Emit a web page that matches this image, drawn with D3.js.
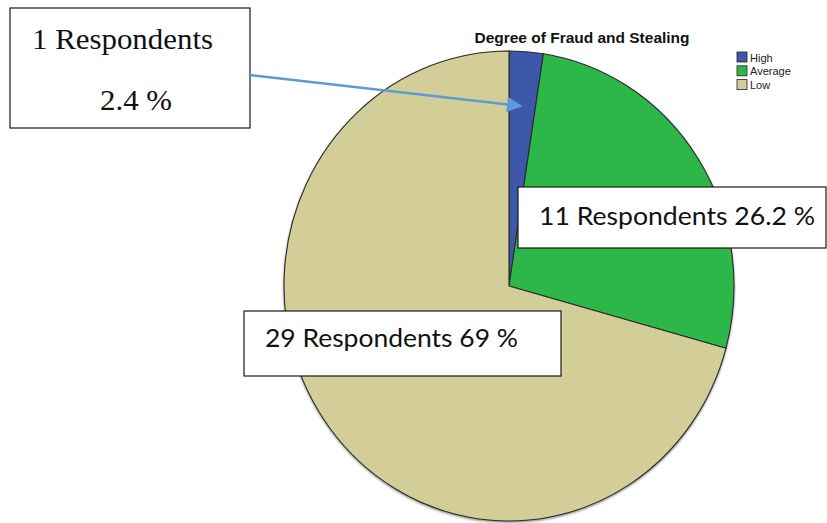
<!DOCTYPE html>
<html>
<head>
<meta charset="utf-8">
<script src="https://cdn.jsdelivr.net/npm/d3@7"></script>
<style>
  html, body { margin: 0; padding: 0; background: #fff; }
  svg { display: block; }
</style>
</head>
<body>
<svg id="chart" width="827" height="523"></svg>
<script>
// Survey answers: degree of fraud and stealing
const categories = ["High", "Average", "Low"];
const counts = [1, 11, 29];
const percentLabels = ["2.4", "26.2", "69"];
const chartTitle = "Degree of Fraud and Stealing";

const colors = ["#3C58A8", "#2DB74A", "#D3CD98"];

const W = 827, H = 523;
const svg = d3.select("#chart");

// Pie geometry (drawn slightly taller than wide)
const cx = 509, cy = 286, rx = 225, ry = 235;

const pie = d3.pie().sort(null).value(d => d.count);
const arcs = pie(categories.map((c, i) => ({ cat: c, count: counts[i], pct: percentLabels[i] })));
const arc = d3.arc().innerRadius(0).outerRadius(rx);

const defs = svg.append("defs");
const f = defs.append("filter").attr("id", "shadow").attr("x", "-10%").attr("y", "-10%").attr("width", "120%").attr("height", "120%");
f.append("feDropShadow").attr("dx", 0).attr("dy", 1.2).attr("stdDeviation", 0.8).attr("flood-color", "#000").attr("flood-opacity", 0.45);

const pieG = svg.append("g")
  .attr("transform", `translate(${cx},${cy}) scale(1,${ry / rx})`)
  .attr("filter", "url(#shadow)");

pieG.selectAll("path.slice")
  .data(arcs)
  .join("path")
  .attr("class", "slice")
  .attr("d", arc)
  .attr("fill", (d, i) => colors[i])
  .attr("stroke", "#2a2a2a")
  .attr("stroke-width", 1.1)
  .attr("stroke-linejoin", "round")
  .attr("vector-effect", "non-scaling-stroke");

// Title
svg.append("text")
  .attr("x", 582).attr("y", 43)
  .attr("text-anchor", "middle")
  .attr("font-family", "Liberation Sans, Arial, sans-serif")
  .attr("font-weight", "bold")
  .attr("font-size", 14)
  .attr("fill", "#111")
  .attr("textLength", 215)
  .attr("lengthAdjust", "spacingAndGlyphs")
  .text(chartTitle);

// Legend
const legend = svg.append("g").attr("transform", "translate(737,52)");
const li = legend.selectAll("g").data(categories).join("g")
  .attr("transform", (d, i) => `translate(0,${i * 13.8})`);
li.append("rect")
  .attr("width", 10).attr("height", 10)
  .attr("fill", (d, i) => colors[i])
  .attr("stroke", "#222").attr("stroke-width", 0.8);
li.append("text")
  .attr("x", 13).attr("y", 9.5)
  .attr("font-family", "Liberation Sans, Arial, sans-serif")
  .attr("font-size", 11)
  .attr("fill", "#222")
  .text(d => d);

// Annotation callouts
const boxStyle = sel => sel.attr("fill", "#fff").attr("stroke", "#1a1a1a").attr("stroke-width", 1.2);

// High: box with an arrow pointing into the slice
const hi = arcs[0];
svg.append("rect").attr("x", 10).attr("y", 8).attr("width", 240).attr("height", 120).call(boxStyle);
svg.append("text")
  .attr("x", 32).attr("y", 49)
  .attr("font-family", "Liberation Serif, Times New Roman, serif")
  .attr("font-size", 30)
  .attr("fill", "#111")
  .attr("textLength", 181).attr("lengthAdjust", "spacingAndGlyphs")
  .text(`${hi.data.count} Respondents`);
svg.append("text")
  .attr("x", 100).attr("y", 110)
  .attr("font-family", "Liberation Serif, Times New Roman, serif")
  .attr("font-size", 30)
  .attr("fill", "#111")
  .attr("textLength", 72).attr("lengthAdjust", "spacingAndGlyphs")
  .text(`${hi.data.pct} %`);

defs.append("marker")
  .attr("id", "arrowHead")
  .attr("viewBox", "0 0 10 10")
  .attr("refX", 9).attr("refY", 5)
  .attr("markerWidth", 6.3).attr("markerHeight", 6)
  .attr("markerUnits", "strokeWidth")
  .attr("orient", "auto")
  .append("path").attr("d", "M0,0 L10,5 L0,10 Z").attr("fill", "#5B9BD5");

svg.append("line")
  .attr("x1", 250).attr("y1", 75)
  .attr("x2", 521).attr("y2", 106)
  .attr("stroke", "#5B9BD5").attr("stroke-width", 2.6)
  .attr("marker-end", "url(#arrowHead)");

// Average
const av = arcs[1];
svg.append("rect").attr("x", 518).attr("y", 187).attr("width", 308).attr("height", 61).call(boxStyle);
svg.append("text")
  .attr("x", 539).attr("y", 225)
  .attr("font-family", "Lato, Open Sans, sans-serif")
  .attr("font-size", 24.5)
  .attr("fill", "#111")
  .attr("textLength", 276).attr("lengthAdjust", "spacingAndGlyphs")
  .text(`${av.data.count} Respondents ${av.data.pct} %`);

// Low
const lo = arcs[2];
svg.append("rect").attr("x", 244).attr("y", 311).attr("width", 317).attr("height", 65).call(boxStyle);
svg.append("text")
  .attr("x", 265).attr("y", 347)
  .attr("font-family", "Lato, Open Sans, sans-serif")
  .attr("font-size", 24.5)
  .attr("fill", "#111")
  .attr("textLength", 253).attr("lengthAdjust", "spacingAndGlyphs")
  .text(`${lo.data.count} Respondents ${lo.data.pct} %`);
</script>
</body>
</html>
